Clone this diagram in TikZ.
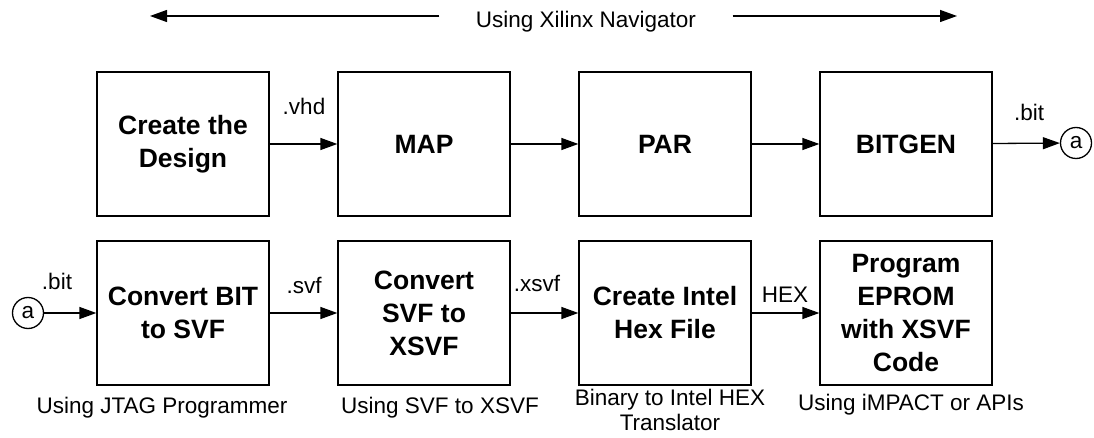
\documentclass[tikz,border=0pt]{standalone}
\usepackage{fontspec}
\setmainfont{Liberation Sans}
\usetikzlibrary{arrows.meta}

\begin{document}
\begin{tikzpicture}[x=1pt, y=-1pt, line width=1.3pt,
    block/.style={draw, minimum width=172pt, minimum height=144pt, inner sep=0pt,
      align=center, font=\fontsize{26.5}{33}\selectfont\bfseries},
    lbl/.style={anchor=base, inner sep=0pt, font=\fontsize{22.5}{25}\selectfont},
    conn/.style={draw, circle, minimum size=31pt, inner sep=0pt,
      font=\fontsize{22.5}{25}\selectfont},
    flow/.style={-{Triangle[length=17pt,width=12pt]}}]
  \useasboundingbox (0,0) rectangle (1094,438);

  % Navigator span
  \node[lbl, inner xsep=36pt] (nav) at (586,28) {Using Xilinx Navigator};
  \coordinate (navL) at (150,16);
  \coordinate (navR) at (957,16);
  \draw[flow] (nav.west |- navL) -- (navL);
  \draw[flow] (nav.east |- navR) -- (navR);

  % Implementation flow
  \node[block] (create) at (183,144) {Create the\\Design};
  \node[block] (map) at (424,144) {MAP};
  \node[block] (par) at (665,144) {PAR};
  \node[block] (bitgen) at (906,144) {BITGEN};
  \node[conn] (a1) at (1076,143) {a};

  \draw[flow] (create) -- (map);
  \draw[flow] (map) -- (par);
  \draw[flow] (par) -- (bitgen);
  \draw[flow] (bitgen) -- (a1);
  \node[lbl] (vhd) at (304,115) {.vhd};
  \node[lbl] (bit1) at (1029,121) {.bit};

  % EPROM programming flow
  \node[conn] (a2) at (28,313) {a};
  \node[block] (conv) at (183,313) {Convert BIT\\to SVF};
  \node[block] (svfx) at (424,313) {Convert\\SVF to\\XSVF};
  \node[block] (hex) at (665,313) {Create Intel\\Hex File};
  \node[block] (prom) at (906,313) {Program\\EPROM\\with XSVF\\Code};

  \draw[flow] (a2) -- (conv);
  \draw[flow] (conv) -- (svfx);
  \draw[flow] (svfx) -- (hex);
  \draw[flow] (hex) -- (prom);
  \node[lbl] (bit2) at (57,289) {.bit};
  \node[lbl] (svf) at (304,293) {.svf};
  \node[lbl] (xsvf) at (537,291) {.xsvf};
  \node[lbl] (hexlbl) at (785,302) {HEX};

  % Tools
  \node[lbl] (jtag) at (162,413) {Using JTAG Programmer};
  \node[lbl] (svftool) at (440,413) {Using SVF to XSVF};
  \node[lbl, align=center] (bin) at (670,430) {Binary to Intel HEX\\Translator};
  \node[lbl] (impact) at (911,410) {Using iMPACT or APIs};
\end{tikzpicture}
\end{document}
